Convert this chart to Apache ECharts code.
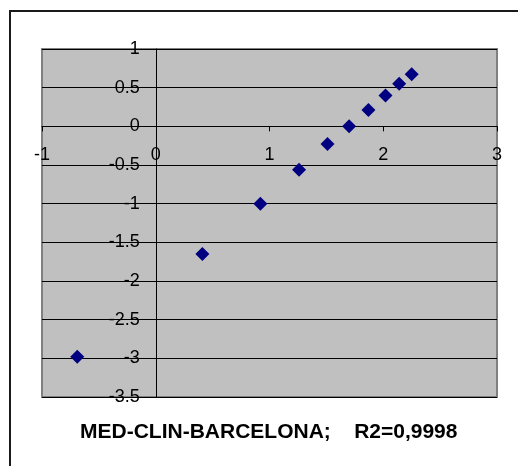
<!DOCTYPE html>
<html>
<head>
<meta charset="utf-8">
<script src="https://cdn.jsdelivr.net/npm/echarts@6/dist/echarts.min.js"></script>
<style>
  html, body { margin: 0; padding: 0; background: #ffffff; }
  #chart { width: 518px; height: 466px; }
</style>
</head>
<body>
<div id="chart"></div>
<script>
// Scatter of the calibration points
const xValues = [-0.69, 0.41, 0.92, 1.26, 1.51, 1.70, 1.87, 2.02, 2.14, 2.25];
const yValues = [-2.98, -1.65, -1.00, -0.56, -0.23, 0.00, 0.21, 0.40, 0.55, 0.675];

// Axis ranges and steps
const xRange = { min: -1, max: 3, step: 1 };
const yRange = { min: -3.5, max: 1, step: 0.5 };

const chartTitle = 'MED-CLIN-BARCELONA;    R2=0,9998';

const points = xValues.map((x, i) => [x, yValues[i]]);

// Plot rectangle
const W = 518, H = 466;
const gridBox = { left: 42, right: 21, top: 49, bottom: 69 };
const plotW = W - gridBox.left - gridBox.right;
const plotH = H - gridBox.top - gridBox.bottom;

// The label-only axes are shifted so their text sits beside the zero lines
const xLabelOffset = -((0 - yRange.min) / (yRange.max - yRange.min)) * plotH;
const yLabelOffset = -((0 - xRange.min) / (xRange.max - xRange.min)) * plotW;

const labelFont = 'Liberation Sans, Arial, sans-serif';
const labelStyle = { color: '#000000', fontFamily: labelFont, fontSize: 18, showMinLabel: true, showMaxLabel: true };

const chart = echarts.init(document.getElementById('chart'), null, { renderer: 'canvas' });

chart.setOption({
  animation: false,
  backgroundColor: '#ffffff',
  title: {
    text: chartTitle,
    left: 80,
    top: 422,
    padding: 0,
    textStyle: {
      fontFamily: labelFont,
      fontWeight: 'bold',
      fontSize: 21,
      color: '#000000'
    }
  },
  graphic: [
    {
      type: 'polyline',
      silent: true,
      shape: { points: [[10, 470], [10, 11], [520, 11]] },
      style: { stroke: '#1a1a1a', lineWidth: 2, fill: null }
    }
  ],
  grid: {
    left: gridBox.left,
    right: gridBox.right,
    top: gridBox.top,
    bottom: gridBox.bottom,
    show: true,
    backgroundColor: '#c0c0c0',
    borderColor: '#808080',
    borderWidth: 2
  },
  xAxis: [
    {
      type: 'value',
      min: xRange.min,
      max: xRange.max,
      interval: xRange.step,
      position: 'bottom',
      axisLine: { onZero: true, lineStyle: { color: '#000000', width: 1 } },
      axisTick: { show: true, length: 5, lineStyle: { color: '#000000' } },
      axisLabel: { show: false },
      splitLine: { show: false }
    },
    {
      type: 'value',
      min: xRange.min,
      max: xRange.max,
      interval: xRange.step,
      position: 'bottom',
      offset: xLabelOffset,
      axisLine: { show: false, onZero: false },
      axisTick: { show: false },
      axisLabel: Object.assign({ margin: 20 }, labelStyle),
      splitLine: { show: false }
    }
  ],
  yAxis: [
    {
      type: 'value',
      min: yRange.min,
      max: yRange.max,
      interval: yRange.step,
      position: 'left',
      axisLine: { onZero: true, lineStyle: { color: '#000000', width: 1 } },
      axisTick: { show: true, length: 6, lineStyle: { color: '#000000' } },
      axisLabel: { show: false },
      splitLine: { show: true, lineStyle: { color: '#000000', width: 1 } }
    },
    {
      type: 'value',
      min: yRange.min,
      max: yRange.max,
      interval: yRange.step,
      position: 'left',
      offset: yLabelOffset,
      axisLine: { show: false, onZero: false },
      axisTick: { show: false },
      axisLabel: Object.assign({ margin: 16 }, labelStyle),
      splitLine: { show: false }
    }
  ],
  series: [
    {
      type: 'scatter',
      xAxisIndex: 0,
      yAxisIndex: 0,
      data: points,
      symbol: 'diamond',
      symbolSize: 14,
      itemStyle: { color: '#000080', opacity: 1 }
    }
  ]
});
</script>
</body>
</html>
